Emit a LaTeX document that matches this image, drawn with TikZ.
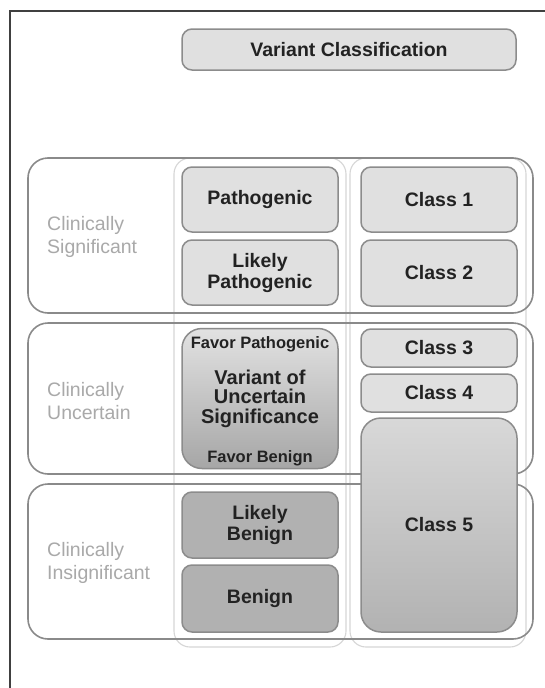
\documentclass[tikz,border=0pt]{standalone}
\usepackage{fontspec}
\setmainfont{Liberation Sans}
\definecolor{framegray}{HTML}{404040}
\definecolor{bandgray}{HTML}{8A8A8A}
\definecolor{colgray}{HTML}{D6D6D6}
\definecolor{boxline}{HTML}{8C8C8C}
\definecolor{lightfill}{HTML}{E0E0E0}
\definecolor{darkfill}{HTML}{B1B1B1}
\definecolor{labelgray}{HTML}{A9A9A9}
\definecolor{ink}{HTML}{222222}
\definecolor{vustop}{HTML}{E2E2E2}
\definecolor{vusbot}{HTML}{A6A6A6}
\definecolor{cfivetop}{HTML}{D8D8D8}
\definecolor{cfivemid}{HTML}{B6B6B6}
\definecolor{cfivebot}{HTML}{B2B2B2}
\begin{document}
\begin{tikzpicture}[x=1pt,y=-1pt,
  frameline/.style={draw=framegray, line width=1.8pt},
  band/.style={draw=bandgray, line width=1.6pt, rounded corners=20pt, inner sep=0pt, minimum width=505pt},
  colband/.style={draw=colgray, line width=1.1pt, rounded corners=16pt, inner sep=0pt},
  box/.style={draw=boxline, line width=1.5pt, rounded corners=10pt, inner sep=0pt,
    font=\bfseries\fontsize{19.5}{21}\selectfont, text=ink, align=center, minimum width=156pt},
  lightbox/.style={box, fill=lightfill},
  darkbox/.style={box, fill=darkfill},
  favor/.style={font=\bfseries\fontsize{16.5}{18}\selectfont, text=ink, inner sep=0pt},
  sidelabel/.style={anchor=west, align=left, text=labelgray, inner sep=0pt,
    font=\fontsize{19.5}{23}\selectfont},
]
\useasboundingbox (0,0) rectangle (545,688);
\fill[white] (0,0) rectangle (545,688);

% frame (top and left edges)
\coordinate (frameBL) at (10,688);
\coordinate (frameTL) at (10,11);
\coordinate (frameTR) at (545,11);
\draw[frameline] (frameBL) -- (frameTL) -- (frameTR);

% column outlines
\node[colband, minimum width=172pt, minimum height=489pt] (colA) at (260,402.5) {};
\node[colband, minimum width=176pt, minimum height=489pt] (colB) at (438,402.5) {};

% row bands
\node[band, minimum height=155pt] (bandSig) at (280.5,235.5) {};
\node[band, minimum height=151pt] (bandUnc) at (280.5,398.5) {};
\node[band, minimum height=155pt] (bandIns) at (280.5,561.5) {};

% side labels
\node[sidelabel] (labSig) at (47,236.5) {Clinically\\Significant};
\node[sidelabel] (labUnc) at (47,401.5) {Clinically\\Uncertain};
\node[sidelabel] (labIns) at (47,562.5) {Clinically\\Insignificant};

% heading
\node[lightbox, minimum width=334pt, minimum height=41pt] (head) at (349,49.5) {Variant Classification};

% ACMG column
\node[lightbox, minimum height=65pt] (path) at (260,199.5) {Pathogenic};
\node[lightbox, minimum height=65pt] (lpath) at (260,272.5) {Likely\\Pathogenic};
\node[box, rounded corners=20pt, minimum height=140pt, top color=vustop, bottom color=vusbot,
  font=\bfseries\fontsize{20}{19.5}\selectfont] (vus) at (260,398.5) {Variant of\\Uncertain\\Significance};
\node[favor] (favP) at ([yshift=-17pt]vus.north) {Favor Pathogenic};
\node[favor] (favB) at ([yshift=11pt]vus.south) {Favor Benign};
\node[darkbox, minimum height=66pt] (lben) at (260,525) {Likely\\Benign};
\node[darkbox, minimum height=67pt] (ben) at (260,598.5) {Benign};

% class column
\node[lightbox, minimum height=65pt] (c1) at (439,199.5) {Class 1};
\node[lightbox, minimum height=66pt] (c2) at (439,273) {Class 2};
\node[lightbox, minimum height=38pt] (c3) at (439,348) {Class 3};
\node[lightbox, minimum height=38pt] (c4) at (439,393) {Class 4};
\node[box, rounded corners=20pt, minimum height=214pt, top color=cfivetop, middle color=cfivemid,
  bottom color=cfivebot] (c5) at (439,525) {Class 5};
\end{tikzpicture}
\end{document}
